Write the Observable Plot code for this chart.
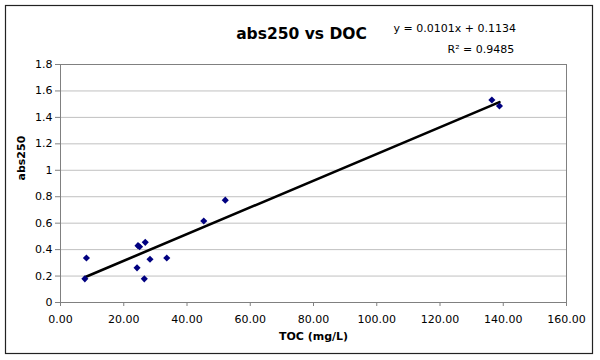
<!DOCTYPE html>
<html><head><meta charset="utf-8">
<script src="https://cdn.jsdelivr.net/npm/d3@7"></script>
<script src="https://cdn.jsdelivr.net/npm/@observablehq/plot@0.6"></script>
<style>
body{margin:0;background:#fff}
#chart{width:600px;height:360px}
</style>
</head><body><div id="chart"></div>
<script>
// Data
const toc = [7.7, 8.2, 24.5, 25.0, 26.8, 24.2, 26.5, 28.3, 33.6, 45.3, 52.1, 136.4, 138.8];
const abs250 = [0.179, 0.337, 0.430, 0.422, 0.455, 0.262, 0.179, 0.327, 0.337, 0.616, 0.774, 1.531, 1.486];
const xTicks = [0, 20, 40, 60, 80, 100, 120, 140, 160];
const yTicks = [0, 0.2, 0.4, 0.6, 0.8, 1, 1.2, 1.4, 1.6, 1.8];
const slope = 0.0101;
const intercept = 0.1134;
const r2 = 0.9485;
const titleText = "abs250 vs DOC";
const xLabelText = "TOC (mg/L)";
const yLabelText = "abs250";
const eqText = "y = 0.0101x + 0.1134";
const r2Text = "R² = 0.9485";

const points = toc.map((x, i) => ({x, y: abs250[i]}));
const xExt = d3.extent(toc);
const trend = xExt.map(x => ({x, y: slope * x + intercept}));

const font = "DejaVu Sans, Verdana, sans-serif";

const chart = Plot.plot({
  width: 600, height: 360,
  marginLeft: 60, marginRight: 34, marginTop: 64, marginBottom: 58,
  style: {fontFamily: font, fontSize: "11px", color: "#000", background: "#fff"},
  x: {domain: [0, 160]},
  y: {domain: [0, 1.8]},
  marks: [
    Plot.gridY(yTicks, {stroke: "#c0c0c0", strokeOpacity: 1}),
    Plot.frame({stroke: "#808080"}),
    Plot.axisY(yTicks, {tickSize: 5, tickPadding: 3, stroke: "#808080", fill: "#000", label: null, tickFormat: d => String(d)}),
    Plot.axisX(xTicks, {tickSize: 4, tickPadding: 9, stroke: "#808080", fill: "#000", label: null, tickFormat: d => d.toFixed(2)}),
    Plot.line(trend, {x: "x", y: "y", stroke: "#000", strokeWidth: 2.6}),
    Plot.dot(points, {x: "x", y: "y", symbol: "diamond2", r: 3.2, fill: "#000080", stroke: "none"}),
    Plot.text([titleText], {frameAnchor: "top", dx: -12, dy: -37, fontWeight: "bold", fontSize: 15.5, fill: "#000"}),
    Plot.text([eqText], {frameAnchor: "top-left", dx: 333, dy: -40, textAnchor: "start", fontSize: 11, fill: "#000"}),
    Plot.text([r2Text], {frameAnchor: "top-left", dx: 387, dy: -19, textAnchor: "start", fontSize: 11, fill: "#000"}),
    Plot.text([xLabelText], {frameAnchor: "bottom", dy: 37, fontWeight: "bold", fontSize: 11, fill: "#000"}),
    Plot.text([yLabelText], {frameAnchor: "left", dx: -39, dy: -3, rotate: -90, fontWeight: "bold", fontSize: 11, fill: "#000"})
  ]
});

d3.select(chart).append("rect")
  .attr("x", 5.5).attr("y", 5.5).attr("width", 587).attr("height", 348)
  .attr("fill", "none").attr("stroke", "#222").attr("stroke-width", 1.2);

document.getElementById("chart").appendChild(chart);
</script>
</body></html>
